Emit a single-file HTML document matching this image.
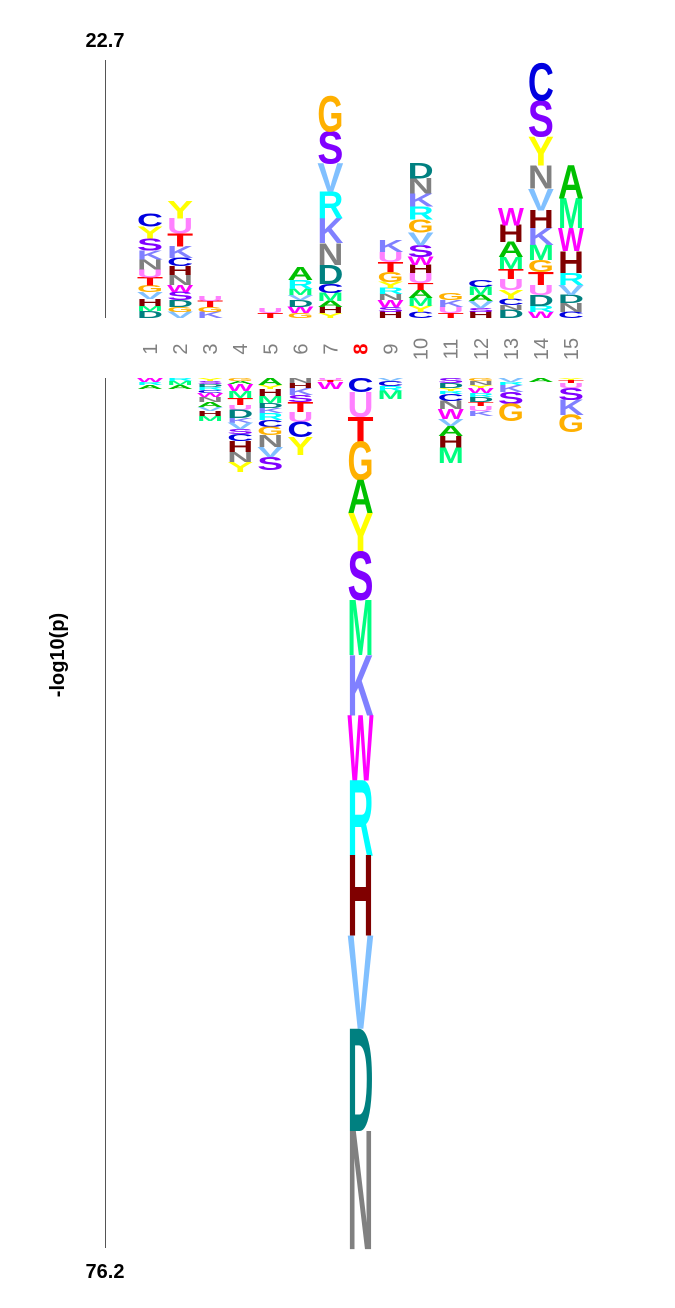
<!DOCTYPE html>
<html><head><meta charset="utf-8"><style>
html,body{margin:0;padding:0;background:#fff;}
svg{display:block;}
text{font-family:"Liberation Sans",sans-serif;}
</style></head><body>
<svg id="logo" width="675" height="1308" viewBox="0 0 675 1308" xmlns="http://www.w3.org/2000/svg">
<text x="105" y="47" font-size="20" font-weight="bold" text-anchor="middle">22.7</text>
<text x="105" y="1278" font-size="20" font-weight="bold" text-anchor="middle">76.2</text>
<text transform="translate(64,655) rotate(-90)" font-size="20" font-weight="bold" text-anchor="middle">-log10(p)</text>
<line x1="105.5" y1="60" x2="105.5" y2="318" stroke="#555" stroke-width="1"/>
<line x1="105.5" y1="378" x2="105.5" y2="1248" stroke="#555" stroke-width="1"/>
<g id="marks"></g>
</svg>
<script>
const positions = ["1","2","3","4","5","6","7","8","9","10","11","12","13","14","15"];
const fixedPosition = "8";
const topMax = 22.7;
const bottomMax = 76.2;
// positive (over-represented), bottom -> top
const posLetters = [
 ["D","M","H","V","G","T","U","N","K","S","Y","C"],
 ["V","G","D","S","W","N","H","C","K","T","U","Y"],
 ["K","G","T","U"],
 [],
 ["T","U"],
 ["G","W","D","V","M","R","A"],
 ["Y","H","A","M","C","D","N","K","R","V","S","G"],
 [],
 ["H","S","W","N","R","Y","G","T","U","K"],
 ["C","Y","M","A","T","U","H","W","S","V","G","R","K","N","D"],
 ["T","U","K","G"],
 ["H","S","V","A","M","C"],
 ["D","N","C","Y","U","T","M","A","H","W"],
 ["W","R","D","U","T","G","M","K","H","V","N","Y","S","C"],
 ["C","N","D","V","R","H","W","M","A"]
];
const posValues = [
 [0.61,0.44,0.61,0.61,0.61,0.70,0.70,0.88,0.79,1.05,1.05,1.14],
 [0.53,0.44,0.61,0.70,0.61,0.88,0.79,0.70,1.05,1.14,1.32,1.49],
 [0.53,0.44,0.53,0.44],
 [],
 [0.44,0.44],
 [0.44,0.53,0.61,0.44,0.53,0.79,1.14],
 [0.44,0.53,0.53,0.70,0.79,1.67,1.93,2.19,2.37,2.46,2.81,3.07],
 [],
 [0.53,0.44,0.61,0.53,0.53,0.53,0.88,0.88,0.88,1.05],
 [0.53,0.53,0.70,0.70,0.61,0.88,0.70,0.70,1.05,1.14,1.14,1.14,1.14,1.32,1.32],
 [0.44,0.53,0.61,0.61],
 [0.53,0.35,0.61,0.53,0.70,0.61],
 [0.70,0.44,0.53,0.79,0.96,0.88,1.05,1.32,1.49,1.49],
 [0.53,0.53,0.96,0.88,1.14,1.05,1.32,1.49,1.58,1.93,2.02,2.54,3.16,3.25],
 [0.53,0.79,0.70,0.88,1.05,1.93,2.02,2.63,2.89]
];
// negative (under-represented), top -> bottom
const negLetters = [
 ["W","R","A"],
 ["R","M","A"],
 ["Y","S","D","R","C","W","N","A","V","H","M"],
 ["G","A","W","M","T","U","D","K","V","S","C","H","N","Y"],
 ["A","Y","H","M","D","K","R","C","G","N","V","S"],
 ["N","H","K","S","T","U","C","Y"],
 ["U","T","W"],
 ["C","U","T","G","A","Y","S","M","K","W","R","H","V","D","N"],
 ["V","C","R","M"],
 [],
 ["S","D","Y","R","C","N","W","V","A","H","M"],
 ["G","N","Y","W","R","D","T","U","K"],
 ["V","R","K","S","G"],
 ["A"],
 ["Y","T","U","S","K","G"]
];
const negValues = [
 [0.35,0.26,0.35],
 [0.26,0.35,0.35],
 [0.26,0.26,0.26,0.26,0.26,0.35,0.44,0.44,0.35,0.44,0.44],
 [0.26,0.26,0.61,0.61,0.61,0.44,0.70,0.44,0.53,0.44,0.61,0.96,0.88,0.88],
 [0.61,0.35,0.61,0.61,0.44,0.44,0.61,0.61,0.70,1.05,0.88,1.14],
 [0.44,0.44,0.61,0.61,0.88,0.88,1.32,1.58],
 [0.18,0.18,0.61],
 [1.23,2.19,2.19,3.33,2.89,3.42,4.21,4.82,5.26,5.70,6.58,7.02,8.16,8.95,10.35],
 [0.26,0.44,0.44,0.70],
 [],
 [0.44,0.44,0.26,0.26,0.61,0.70,0.88,0.61,0.88,1.05,1.32],
 [0.26,0.35,0.26,0.44,0.35,0.44,0.35,0.44,0.44],
 [0.35,0.26,0.61,1.05,1.49],
 [0.35],
 [0.18,0.26,0.44,1.05,1.32,1.49]
];
const colors = {A:"#00c000",C:"#0000e0",D:"#008080",E:"#ff0000",F:"#ff8000",G:"#ffb000",H:"#800000",I:"#000000",K:"#8080ff",L:"#ff8080",M:"#00ff80",N:"#808080",P:"#008000",Q:"#00ffff",R:"#00ffff",S:"#8000ff",T:"#ff0000",U:"#ff80ff",V:"#80c0ff",W:"#ff00ff",Y:"#ffff00"};
const NS = "http://www.w3.org/2000/svg";
const g = document.getElementById("marks");
const x0 = 150, dx = 30.07, letterW = 26;
const topBase = 318, topPx = 258, botBase = 378, botPx = 870;
function xCol(i){ return x0 + i*dx; }
function yTop(v){ return topBase - v*topPx/topMax; }
function yBot(v){ return botBase + v*botPx/bottomMax; }
const CAP = 68.8;
function letter(ch, xc, yBottom, h, name){
  if(h <= 0.3) return;
  const t = document.createElementNS(NS,"text");
  
  
  t.textContent = ch;
  t.setAttribute("font-size","100");
  t.setAttribute("font-weight","bold");
  t.setAttribute("x","0"); t.setAttribute("y","0");
  t.setAttribute("textLength", letterW);
  t.setAttribute("lengthAdjust","spacingAndGlyphs");
  t.setAttribute("fill", colors[ch] || "#000");
  t.setAttribute("transform","translate("+(xc-letterW/2)+","+yBottom+") scale(1,"+(h/CAP)+")");
  g.appendChild(t);
}
positions.forEach(function(p,i){
  const xc = xCol(i);
  let cum = 0;
  posLetters[i].forEach(function(ch,j){
    const v = posValues[i][j];
    const yb = yTop(cum), yt = yTop(cum+v);
    letter(ch, xc, yb, yb-yt, "pos-letter-"+p+"-"+ch);
    cum += v;
  });
  cum = 0;
  negLetters[i].forEach(function(ch,j){
    const v = negValues[i][j];
    const ytp = yBot(cum), yb = yBot(cum+v);
    letter(ch, xc, yb, yb-ytp, "neg-letter-"+p+"-"+ch);
    cum += v;
  });
  const lab = document.createElementNS(NS,"text");
  
  
  lab.textContent = p;
  lab.setAttribute("font-size","20");
  lab.setAttribute("font-weight", p===fixedPosition ? "bold" : "normal");
  lab.setAttribute("fill", p===fixedPosition ? "#ff0000" : "#808080");
  lab.setAttribute("text-anchor","middle");
  lab.setAttribute("transform","translate("+(xc+7)+",349) rotate(-90)");
  g.appendChild(lab);
});
</script>
</body></html>
